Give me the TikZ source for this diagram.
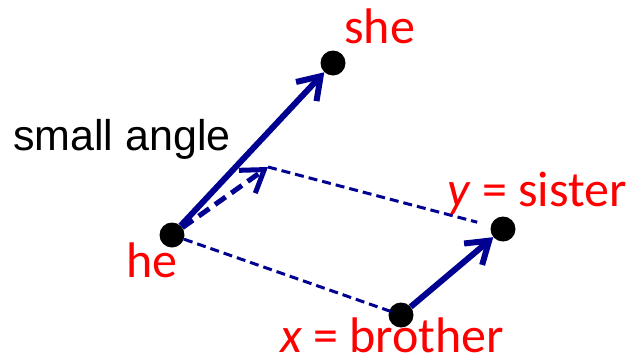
\documentclass[tikz,border=0pt]{standalone}
\usepackage{fontspec}
\setmainfont{Carlito}
\newfontfamily\anglefont{Liberation Sans}
\usetikzlibrary{arrows.meta}
\definecolor{vecblue}{RGB}{0,0,145}

\begin{document}
\begin{tikzpicture}[x=1pt,y=-1pt,
    dot/.style={circle,fill=black,inner sep=0pt,minimum size=25pt},
    word/.style={text=red,anchor=base west,inner sep=0pt,font=\fontsize{50}{58}\selectfont},
    vec/.style={draw=vecblue,line width=6pt,-{Straight Barb[length=21pt,width=28pt]}},
    guide/.style={draw=vecblue,line width=3pt,dash pattern=on 9pt off 5pt}]
    \useasboundingbox (0,0) rectangle (630,360);

    \node[dot] (he) at (172,235) {};
    \node[dot] (she) at (333,63) {};
    \node[dot] (sis) at (503,229) {};
    \node[dot] (bro) at (401,315) {};
    \coordinate (tip) at (268,167);

    \draw[guide,shorten >=14pt] (tip)--(sis);
    \draw[guide,shorten >=-4pt] (he)--(bro);
    \draw[vec] (he)--(she);
    \draw[vec] (bro)--(sis);
    \draw[vec,line width=5pt,dash pattern=on 13pt off 7pt] (he)--(tip);

    \node[word] (shelbl) at (344,43) {she};
    \node[word] (helbl) at (126,277) {he};
    \node[word] (sislbl) at (447,206) {\textit{y} = sister};
    \node[word] (brolbl) at (280,352) {\textit{x} = brother};
    \node[anchor=base west,inner sep=0pt,font=\anglefont\fontsize{43}{50}\selectfont] (anglbl) at (13,150) {small angle};
\end{tikzpicture}
\end{document}
